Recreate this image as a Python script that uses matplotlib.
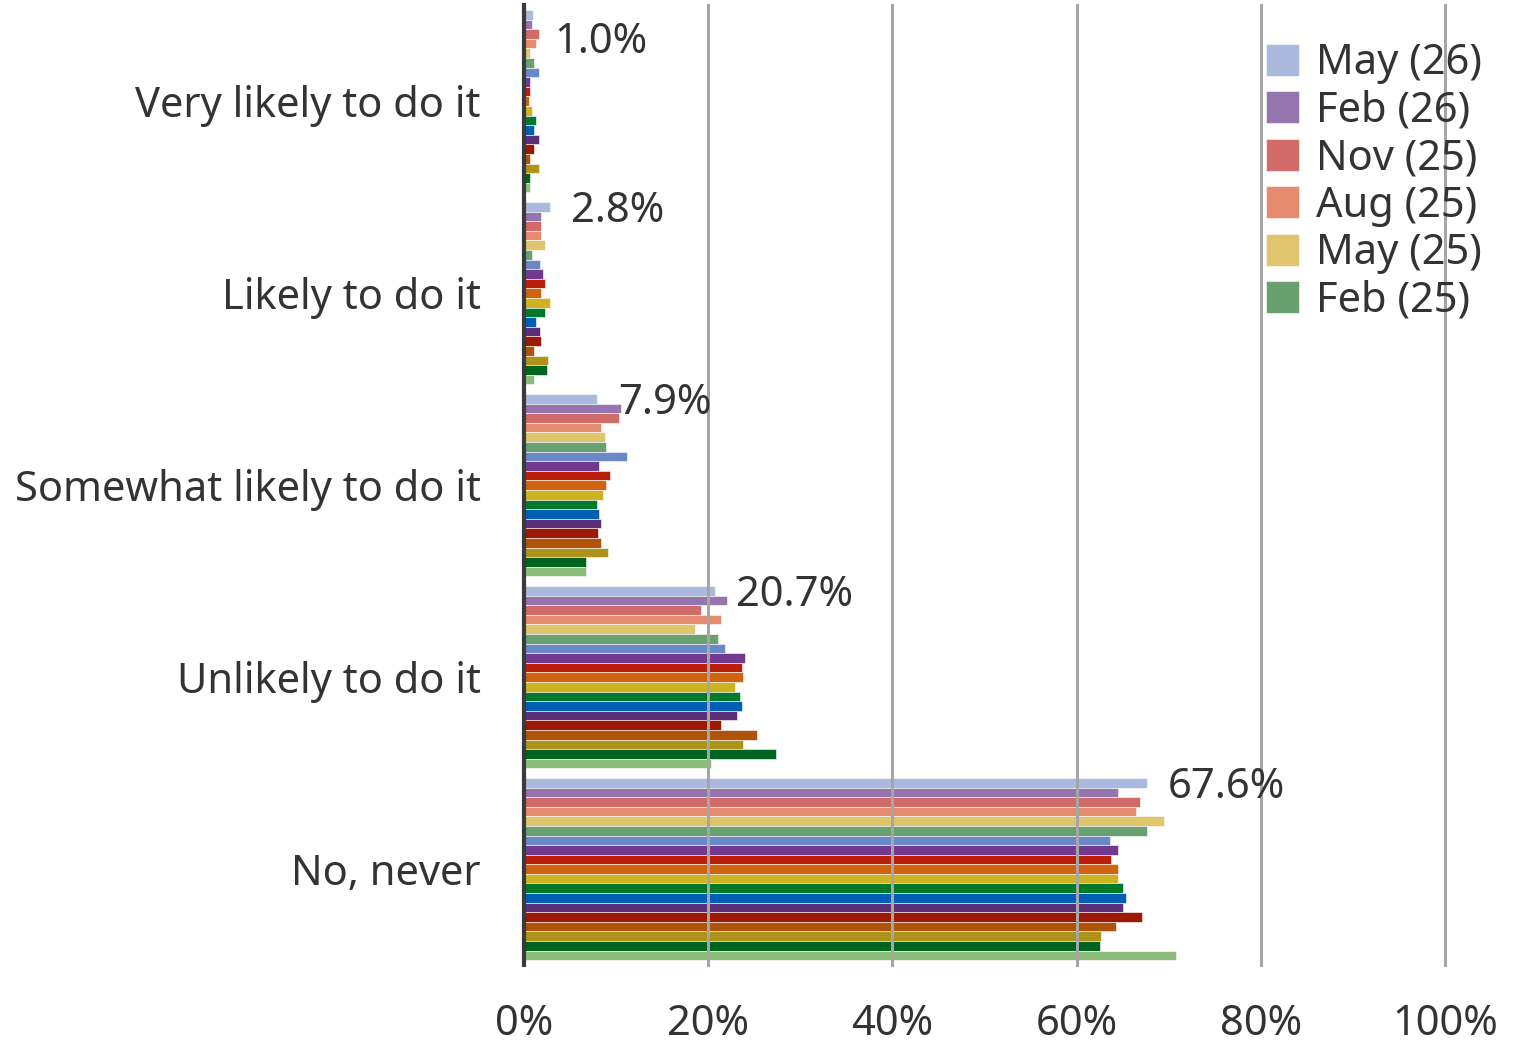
import numpy as np
import matplotlib
matplotlib.use("Agg")
from matplotlib import pyplot as plt

plt.rcParams['font.family'] = ['Noto Sans', 'DejaVu Sans']

categories = ["Very likely to do it", "Likely to do it", "Somewhat likely to do it",
              "Unlikely to do it", "No, never"]

series_names = ["May (26)", "Feb (26)", "Nov (25)", "Aug (25)", "May (25)", "Feb (25)",
                "Nov (24)", "Aug (24)", "May (24)", "Feb (24)", "Nov (23)", "Aug (23)",
                "May (23)", "Feb (23)", "Nov (22)", "Aug (22)", "May (22)", "Feb (22)",
                "Nov (21)"]

colors = ["#AAB9DD", "#9575AE", "#D06B68", "#E48C6D", "#E0C56E", "#68A070",
          "#6A88C8", "#723A8F", "#BB1F07", "#D2640F", "#CFB221", "#007A2A",
          "#005EB5", "#5C2E75", "#9C1A03", "#AF530B", "#AE921A", "#006420",
          "#8BBD78"]

# one list per category, values in series order (May 26 first)
very_likely = [1.0, 0.9, 1.6, 1.3, 0.7, 1.1, 1.6, 0.7, 0.7, 0.5, 0.9, 1.3,
               1.1, 1.6, 1.1, 0.7, 1.6, 0.7, 0.7]
likely = [2.8, 1.9, 1.9, 1.9, 2.3, 0.9, 1.7, 2.1, 2.3, 1.9, 2.8, 2.3,
          1.3, 1.7, 1.9, 1.1, 2.6, 2.5, 1.1]
somewhat = [7.9, 10.5, 10.3, 8.4, 8.8, 8.9, 11.2, 8.2, 9.3, 8.9, 8.6, 7.9,
            8.2, 8.4, 8.0, 8.4, 9.1, 6.7, 6.7]
unlikely = [20.7, 22.0, 19.2, 21.4, 18.6, 21.1, 21.8, 24.0, 23.7, 23.8, 22.9, 23.5,
            23.7, 23.1, 21.4, 25.3, 23.8, 27.4, 20.3]
never = [67.6, 64.5, 66.9, 66.5, 69.5, 67.6, 63.6, 64.5, 63.7, 64.5, 64.5, 65.0,
         65.4, 65.0, 67.1, 64.3, 62.6, 62.5, 70.8]

data = np.array([very_likely, likely, somewhat, unlikely, never])

fig = plt.figure(figsize=(15.23, 10.49), dpi=100)
ax = fig.add_axes([0.344, 0.080, 0.6048, 0.915])

n = len(series_names)
h = 0.95 / n
y = np.arange(len(categories))
for j in range(n):
    ax.barh(y - 0.475 + (j + 0.5) * h, data[:, j], height=h, color=colors[j],
            edgecolor='white', linewidth=0.4, label=series_names[j], zorder=2)

# labels on the first series
for i in range(len(categories)):
    dy = -27 if i == 0 else -4
    ax.annotate(f"{data[i, 0]:.1f}%", (data[i, 0], y[i] - 0.475 + 0.5 * h),
                xytext=(21, dy), textcoords='offset pixels', va='center', ha='left',
                fontsize=30, color='#333333', zorder=4)

for gx in [20, 40, 60, 80, 100]:
    ax.axvline(gx, color='#A6A6A6', lw=2.2, zorder=3, clip_on=False)

ax.set_xlim(0, 100)
ax.set_ylim(4.5, -0.5)
ax.set_xticks([0, 20, 40, 60, 80, 100])
ax.set_xticklabels(["0%", "20%", "40%", "60%", "80%", "100%"])
ax.set_yticks(y)
ax.set_yticklabels(categories)
ax.tick_params(length=0, labelsize=30, labelcolor='#333333')
ax.tick_params(axis='x', pad=27)
ax.tick_params(axis='y', pad=31)
for s in ['top', 'right', 'bottom']:
    ax.spines[s].set_visible(False)
ax.spines['left'].set_color('#3A3A3A')
ax.spines['left'].set_linewidth(3)
ax.spines['left'].set_zorder(5)

handles, labels = ax.get_legend_handles_labels()
ax.legend(handles[:6], labels[:6], loc='upper left', bbox_to_anchor=(0.783, 0.983),
          frameon=False, fontsize=30, labelcolor='#333333', handlelength=0.8,
          handleheight=0.8, handletextpad=0.4, labelspacing=0.13, borderpad=0)

plt.savefig("out.png", dpi=100)
